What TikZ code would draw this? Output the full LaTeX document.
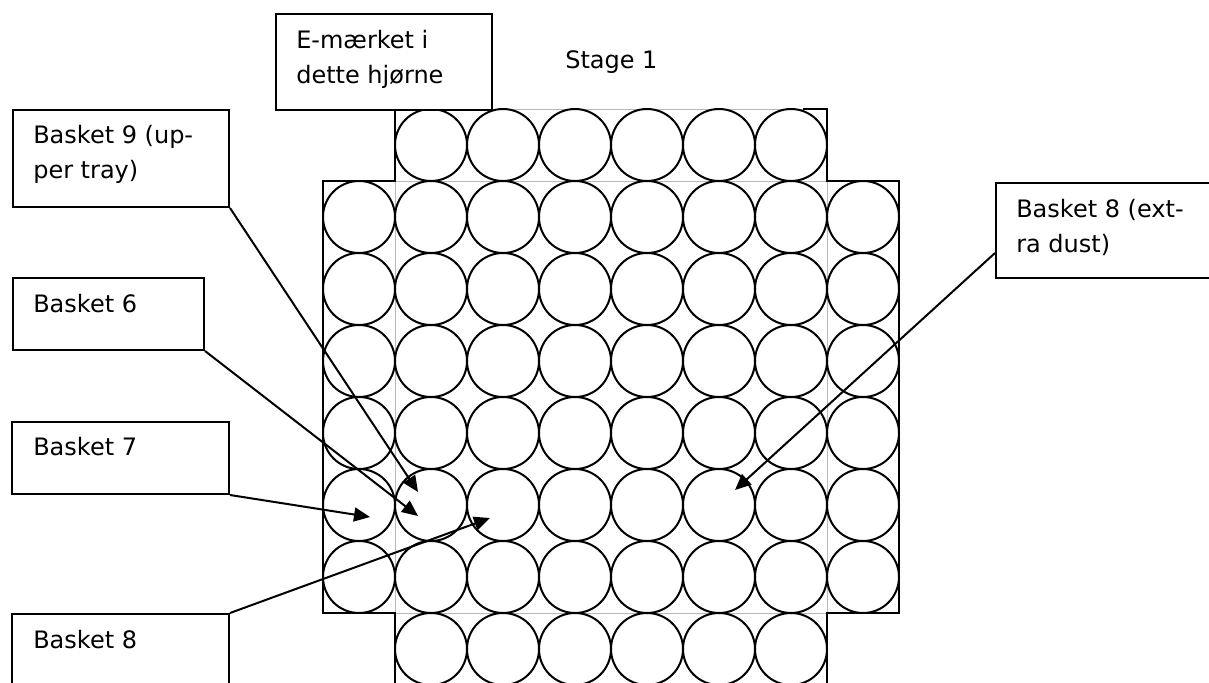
\documentclass[tikz,border=0pt]{standalone}
\usepackage{fontspec}
\setmainfont{DejaVu Sans}
\usetikzlibrary{arrows.meta}
\begin{document}
\begin{tikzpicture}[x=0.75pt,y=-0.75pt,
  box/.style={draw=black,line width=1.5pt,rectangle,inner sep=0pt,anchor=north west},
  txt/.style={inner sep=0pt,anchor=base west,align=left,font=\fontsize{18}{26.25}\selectfont},
  arr/.style={line width=1.5pt,-{Triangle[length=12pt,width=10.5pt]}},
  edge/.style={line width=1.5pt,line cap=rect},
  thin/.style={line width=0.6pt,draw=black!28},
  ring/.style={line width=1.5pt}]
\useasboundingbox (0,0) rectangle (1209,682);
\clip (0,0) rectangle (1209,682);
% gray guide lines
\draw[thin] (491,109) -- (804,109);
\draw[thin] (395,181) -- (827,181);
\draw[thin] (395,613) -- (827,613);
\draw[thin] (395,181) -- (395,613);
\draw[thin] (827,181) -- (827,613);
% circles
\foreach \c in {0,...,5}{
  \draw[ring] (431+72*\c,145) circle[radius=36];
  \draw[ring] (431+72*\c,649) circle[radius=36];
}
\foreach \r in {0,...,5}{
  \foreach \c in {0,...,7}{
    \draw[ring] (359+72*\c,217+72*\r) circle[radius=36];
  }
}
% black outline
\draw[edge] (804,109) -- (827,109) -- (827,181) -- (899,181) -- (899,613) -- (827,613) -- (827,690);
\draw[edge] (395,109) -- (395,181) -- (323,181) -- (323,613) -- (395,613) -- (395,690);
% boxes
\node[box,fill=white,minimum width=216*0.75pt,minimum height=96*0.75pt] (be) at (275,13) {};
\node[box,minimum width=216*0.75pt,minimum height=97*0.75pt] (b9) at (12,109) {};
\node[box,minimum width=191*0.75pt,minimum height=72*0.75pt] (b6) at (12,277) {};
\node[box,minimum width=217*0.75pt,minimum height=72*0.75pt] (b7) at (11,421) {};
\node[box,minimum width=217*0.75pt,minimum height=90*0.75pt] (b8) at (11,613) {};
\node[box,minimum width=230*0.75pt,minimum height=95*0.75pt] (bx) at (995,182) {};
% texts (base anchor = last line baseline)
\node[txt] (te) at (296,83) {E-mærket i\\dette hjørne};
\node[txt] (ts) at (565,68) {Stage 1};
\node[txt] (t9) at (33,178) {Basket 9 (up-\\per tray)};
\node[txt] (t6) at (33,312) {Basket 6};
\node[txt] (t7) at (33,455) {Basket 7};
\node[txt] (t8) at (33,648) {Basket 8};
\node[txt] (tx) at (1016,252) {Basket 8 (ext-\\ra dust)};
% arrow targets
\coordinate (a9) at (418,492);
\coordinate (a6) at (418,516);
\coordinate (a7) at (370,517);
\coordinate (a8) at (490,518);
\coordinate (ax) at (735,490);
\coordinate (sx) at (995,253);
\draw[arr] (b9.south east) -- (a9);
\draw[arr] (b6.south east) -- (a6);
\draw[arr] (b7.south east) -- (a7);
\draw[arr] (b8.north east) -- (a8);
\draw[arr] (sx) -- (ax);
\end{tikzpicture}
\end{document}
